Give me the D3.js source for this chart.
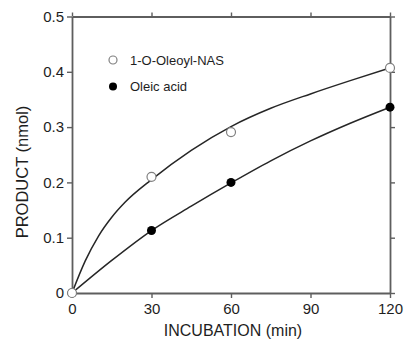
<!DOCTYPE html>
<html><head><meta charset="utf-8">
<script src="https://cdn.jsdelivr.net/npm/d3@7"></script>
<style>body{margin:0;background:#fff;} svg{display:block;font-family:"Liberation Sans",Arial,sans-serif;}</style>
</head><body>
<svg id="c" width="406" height="340"></svg>
<script>
const xTicks = [0, 30, 60, 90, 120];
const yTicks = [0, 0.1, 0.2, 0.3, 0.4, 0.5];
const yTickLabels = ["0", "0.1", "0.2", "0.3", "0.4", "0.5"];
const seriesNames = ["1-O-Oleoyl-NAS", "Oleic acid"];
const timesNAS = [0, 30, 60, 120];
const valuesNAS = [0, 0.21, 0.291, 0.407];
const timesOleic = [0, 30, 60, 120];
const valuesOleic = [0, 0.113, 0.2, 0.336];
// fitted curves
const fitNAS_x = [0, 5, 10, 15, 20, 30, 45, 60, 75, 90, 105, 120];
const fitNAS_y = [0, 0.058, 0.103, 0.137, 0.164, 0.205, 0.258, 0.301, 0.334, 0.36, 0.384, 0.407];
const fitOleic_x = [0, 15, 30, 45, 60, 75, 90, 105, 120];
const fitOleic_y = [0, 0.059, 0.113, 0.157, 0.199, 0.239, 0.275, 0.307, 0.336];

const svg = d3.select("#c");
const L = 72, R = 390, T = 16.5, B = 293;
const x = d3.scaleLinear().domain([0, 120]).range([L, R]);
const y = d3.scaleLinear().domain([0, 0.5]).range([B, T]);
const axisColor = "#5e5e5e", textColor = "#1e1e1e";

function styleAxis(g) {
  g.select(".domain").attr("stroke", axisColor).attr("stroke-width", 1.8);
  g.selectAll(".tick line").attr("stroke", axisColor).attr("stroke-width", 1.4);
  g.selectAll(".tick text").attr("fill", textColor).style("font-size", "15px");
}
svg.append("g").attr("transform", `translate(0,${B})`)
  .call(d3.axisBottom(x).tickValues(xTicks).tickSize(5).tickSizeOuter(0).tickPadding(5.5))
  .call(styleAxis);
svg.append("g").attr("transform", `translate(0,${T})`)
  .call(d3.axisTop(x).tickValues(xTicks).tickSize(4).tickSizeOuter(0).tickFormat(""))
  .call(styleAxis);
svg.append("g").attr("transform", `translate(${L},0)`)
  .call(d3.axisLeft(y).tickValues(yTicks).tickSize(5).tickSizeOuter(0).tickPadding(3)
    .tickFormat((d, i) => yTickLabels[i]))
  .call(styleAxis);
svg.append("g").attr("transform", `translate(${R},0)`)
  .call(d3.axisRight(y).tickValues(yTicks).tickSize(5).tickSizeOuter(0).tickFormat(""))
  .call(styleAxis);

const line = d3.line().x(d => x(d[0])).y(d => y(d[1])).curve(d3.curveMonotoneX);
svg.append("path").datum(fitNAS_x.map((v, i) => [v, fitNAS_y[i]]))
  .attr("d", line).attr("fill", "none").attr("stroke", "#262626").attr("stroke-width", 1.5);
svg.append("path").datum(fitOleic_x.map((v, i) => [v, fitOleic_y[i]]))
  .attr("d", line).attr("fill", "none").attr("stroke", "#262626").attr("stroke-width", 1.5);

svg.selectAll(".pO").data(timesOleic.map((t, i) => [t, valuesOleic[i]])).enter()
  .append("circle").attr("cx", d => x(d[0])).attr("cy", d => y(d[1])).attr("r", 4.5)
  .attr("fill", "#000");
svg.selectAll(".pN").data(timesNAS.map((t, i) => [t, valuesNAS[i]])).enter()
  .append("circle").attr("cx", d => x(d[0])).attr("cy", d => y(d[1])).attr("r", 4.5)
  .attr("fill", "#fff").attr("stroke", "#808080").attr("stroke-width", 1.2);

// legend
const lg = svg.append("g");
lg.append("circle").attr("cx", 113).attr("cy", 60).attr("r", 4).attr("fill", "#fff").attr("stroke", "#808080").attr("stroke-width", 1.2);
lg.append("circle").attr("cx", 113).attr("cy", 86.5).attr("r", 4).attr("fill", "#000");
lg.append("text").attr("x", 130).attr("y", 65).attr("fill", textColor).style("font-size", "13px").text(seriesNames[0]);
lg.append("text").attr("x", 130).attr("y", 91).attr("fill", textColor).style("font-size", "13px").text(seriesNames[1]);

svg.append("text").attr("x", 233).attr("y", 335.5).attr("text-anchor", "middle")
  .attr("fill", textColor).style("font-size", "16px").text("INCUBATION (min)");
svg.append("text").attr("transform", `translate(27.5,172) rotate(-90)`).attr("text-anchor", "middle")
  .attr("fill", textColor).style("font-size", "16.5px").text("PRODUCT (nmol)");
</script>
</body></html>
